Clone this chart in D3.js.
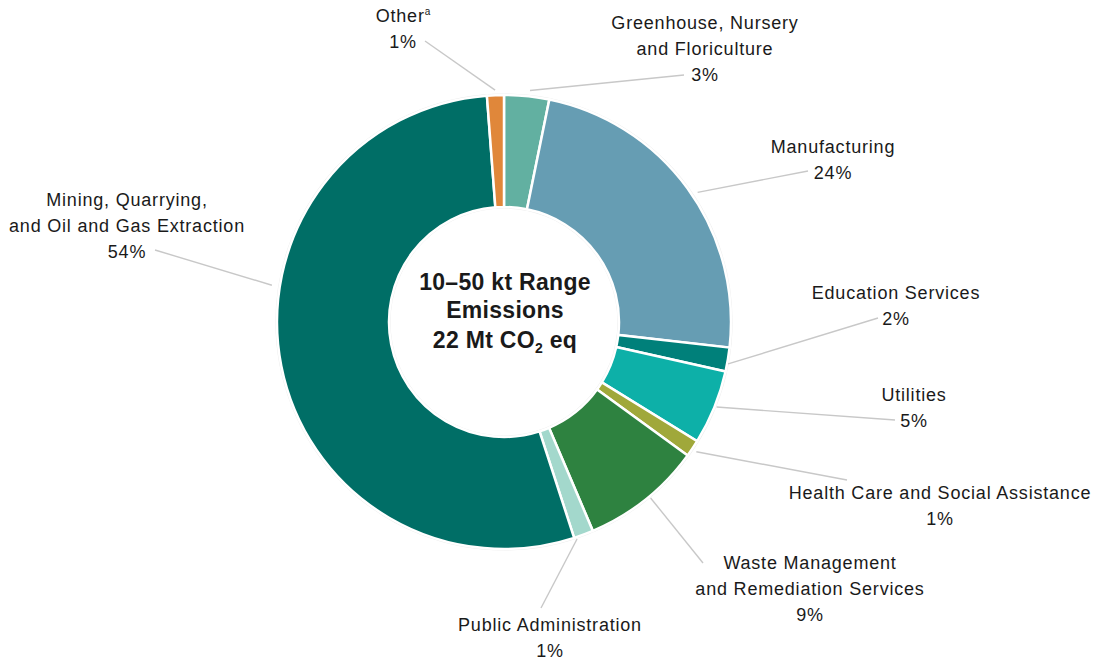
<!DOCTYPE html>
<html>
<head>
<meta charset="utf-8">
<script src="https://cdn.jsdelivr.net/npm/d3@7"></script>
<style>
  html, body { margin: 0; padding: 0; background: #fff; }
  svg { display: block; }
  text { font-family: "Liberation Sans", Arial, sans-serif; fill: #1a1a1a; }
</style>
</head>
<body>
<div id="chart"></div>
<script>
// Sectors, clockwise from twelve o'clock
const sectors = [
  "Greenhouse, Nursery and Floriculture",
  "Manufacturing",
  "Education Services",
  "Utilities",
  "Health Care and Social Assistance",
  "Waste Management and Remediation Services",
  "Public Administration",
  "Mining, Quarrying, and Oil and Gas Extraction",
  "Other"
];
// Share of 10–50 kt range emissions (%)
const shares = [3.2, 23.6, 1.7, 5.3, 1.2, 8.6, 1.4, 53.8, 1.2];
// Label text lines (percentage appended from the share)
const labelLines = [
  ["Greenhouse, Nursery", "and Floriculture"],
  ["Manufacturing"],
  ["Education Services"],
  ["Utilities"],
  ["Health Care and Social Assistance"],
  ["Waste Management", "and Remediation Services"],
  ["Public Administration"],
  ["Mining, Quarrying,", "and Oil and Gas Extraction"],
  ["Other"]
];
const sliceColors = ["#62b0a1", "#669db3", "#00807a", "#0db0a8", "#a0a83a",
                     "#2e8240", "#a3d8cc", "#006e66", "#e0873a"];

// Label placement: text centre x, first baseline y,
// leader start (angle in degrees clockwise from top, gap beyond the ring) and end point
const labelLayout = [
  { x: 705, y: 29,  a: 6.4,   gap: 6, ex: 684, ey: 75 },
  { x: 833, y: 153, a: 56.2,  gap: 6, ex: 808, ey: 171 },
  { x: 896, y: 299, a: 100.6, gap: 1, ex: 878, ey: 318 },
  { x: 914, y: 401, a: 111.8, gap: 2, ex: 895, ey: 420 },
  { x: 940, y: 499, a: 124.0, gap: 5, ex: 847, ey: 480 },
  { x: 810, y: 569, a: 140.2, gap: 2, ex: 703, ey: 563 },
  { x: 550, y: 631, a: 161.4, gap: 2, ex: 541, ey: 608 },
  { x: 127, y: 206, a: 279.0, gap: 8, ex: 155, ey: 250 },
  { x: 403, y: 22,  a: 357.8, gap: 5, ex: 425, ey: 41 }
];

const W = 1096, H = 660;
const cx = 504, cy = 322;
const outerR = 227, innerR = 115;

const data = sectors.map((s, i) => ({ sector: s, value: shares[i], i }));

const svg = d3.select("#chart").append("svg")
  .attr("width", W).attr("height", H);

const g = svg.append("g").attr("transform", `translate(${cx},${cy})`);

const pie = d3.pie().value(d => d.value).sort(null);
const arc = d3.arc().innerRadius(innerR).outerRadius(outerR);
const arcs = pie(data);

// faint halo round the ring
g.append("circle").attr("r", outerR + 0.8)
  .attr("fill", "none").attr("stroke", "#ececec").attr("stroke-width", 1.6);
g.append("circle").attr("r", innerR - 0.8)
  .attr("fill", "none").attr("stroke", "#ececec").attr("stroke-width", 1.6);

g.selectAll("path.slice").data(arcs).enter().append("path")
  .attr("class", "slice")
  .attr("d", arc)
  .attr("fill", d => sliceColors[d.data.i])
  .attr("stroke", "#fff")
  .attr("stroke-width", 2.5)
  .attr("stroke-linejoin", "miter");

// leader lines from the ring out to each label
const pct = v => Math.round(v) + "%";
arcs.forEach(a => {
  const L = labelLayout[a.data.i];
  const ang = L.a * Math.PI / 180;
  const r0 = outerR + L.gap;
  svg.append("line")
    .attr("x1", cx + r0 * Math.sin(ang)).attr("y1", cy - r0 * Math.cos(ang))
    .attr("x2", L.ex).attr("y2", L.ey)
    .attr("stroke", "#c8c8c8").attr("stroke-width", 1.4);
});

// slice labels
const lineH = 26;
arcs.forEach(a => {
  const i = a.data.i;
  const L = labelLayout[i];
  const t = svg.append("text")
    .attr("text-anchor", "middle")
    .attr("font-size", 18)
    .attr("letter-spacing", 0.8);
  const lines = labelLines[i];
  lines.forEach((ln, k) => {
    t.append("tspan").attr("x", L.x).attr("y", L.y + k * lineH).text(ln);
    if (a.data.sector === "Other") {
      t.append("tspan").attr("font-size", 10).attr("letter-spacing", 0).attr("dy", -7).text("a");
    }
  });
  t.append("tspan").attr("x", L.x).attr("y", L.y + lines.length * lineH).text(pct(a.data.value));
});

// centre title
const title = svg.append("text")
  .attr("text-anchor", "middle")
  .attr("font-size", 23)
  .attr("font-weight", "bold")
  .attr("letter-spacing", 0.3);
title.append("tspan").attr("x", cx + 1).attr("y", 290).text("10–50 kt Range");
title.append("tspan").attr("x", cx + 1).attr("y", 318).text("Emissions");
title.append("tspan").attr("x", cx + 1).attr("y", 348).text("22 Mt CO");
title.append("tspan").attr("font-size", 14).attr("dy", 5).text("2");
title.append("tspan").attr("dy", -5).text(" eq");
</script>
</body>
</html>
